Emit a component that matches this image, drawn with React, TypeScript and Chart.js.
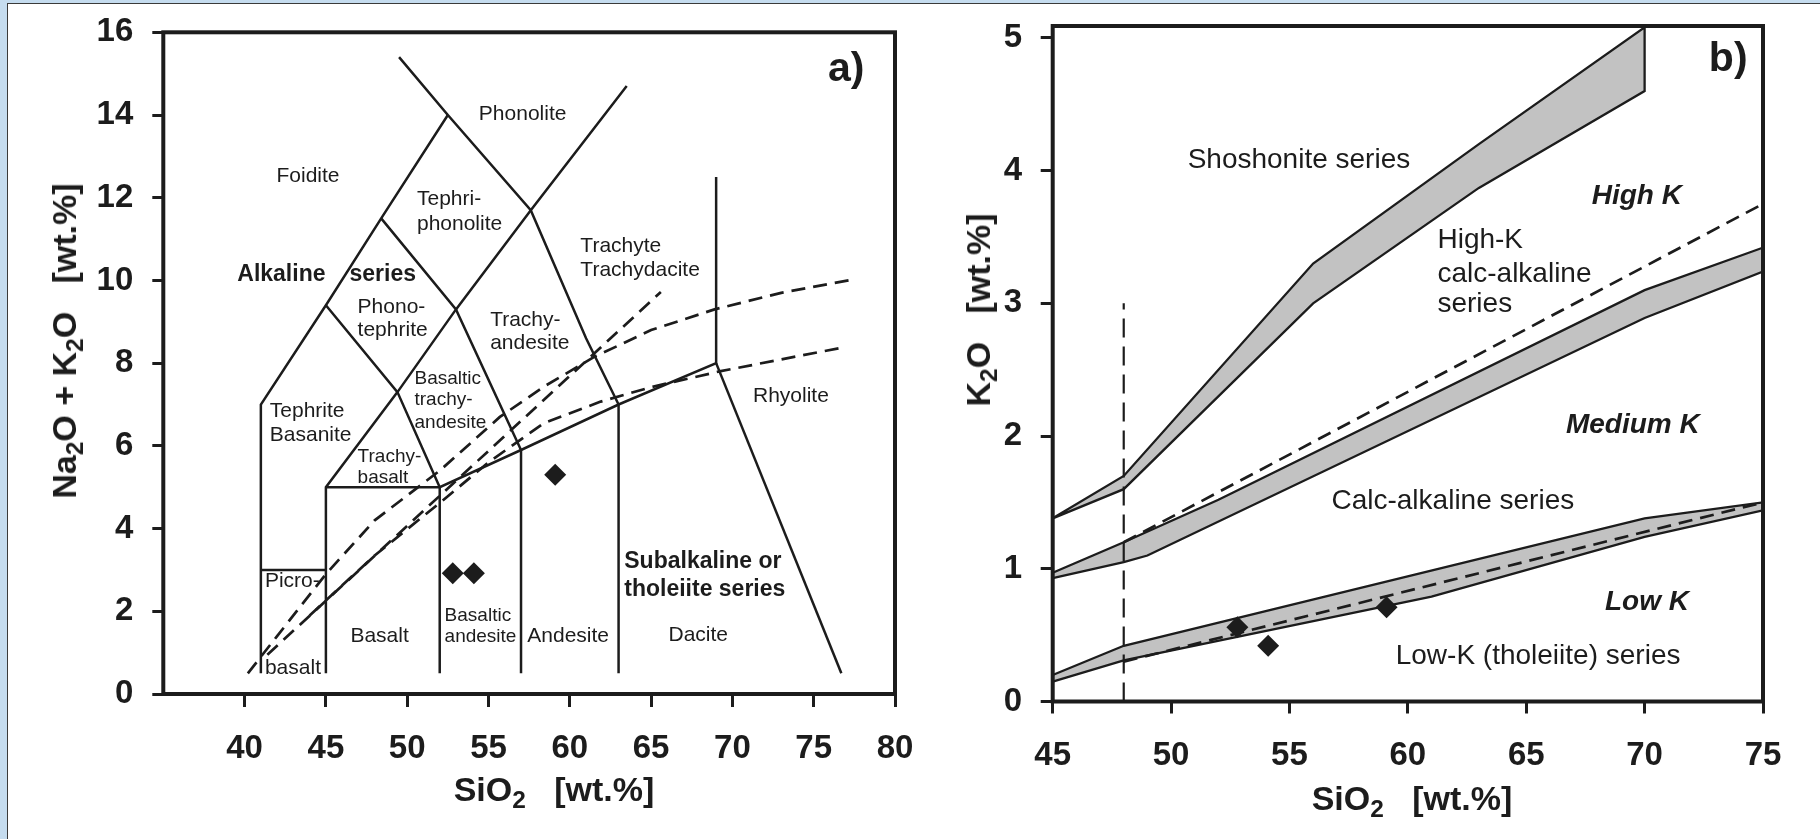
import React, { useEffect, useRef } from 'react';
import { Chart, registerables } from 'chart.js';

Chart.register(...registerables);

const FONT = '"Liberation Sans", Arial, Helvetica, sans-serif';
const INK = '#1c1c1c';
const BAND = '#c2c2c2';

// ---------- Panel a: TAS diagram ----------
const tasXTicks = [40, 45, 50, 55, 60, 65, 70, 75, 80];
const tasYTicks = [0, 2, 4, 6, 8, 10, 12, 14, 16];

const tasFoiditeBoundary = [[41, 0.5], [41, 7], [45, 9.4], [48.4, 11.5], [52.5, 14]];
const tasPhonoliteBoundary = [[49.5, 15.4], [52.5, 14], [57.6, 11.7], [61, 8.6], [63, 7], [63, 0.5]];
const tasTrachyteBoundary = [[45, 0.5], [45, 5], [49.4, 7.3], [53, 9.3], [57.6, 11.7], [63.5, 14.7]];
const tasPicroTop = [[41, 3], [45, 3]];
const tasTephriteBoundary = [[45, 9.4], [49.4, 7.3], [52, 5], [52, 0.5]];
const tasPhonotephriteBoundary = [[48.4, 11.5], [53, 9.3], [57, 5.9], [57, 0.5]];
const tasSubalkalineTop = [[45, 5], [52, 5], [57, 5.9], [63, 7], [69, 8], [69, 12.5]];
const tasRhyoliteBoundary = [[69, 8], [76.7, 0.5]];

const tasIrvineBaragar = [[40.2, 0.5], [42, 1.4], [45, 2.9], [48, 4.2], [52, 5.4], [55.7, 6.7], [58.4, 7.43], [61.5, 8.15], [65, 8.8], [68.9, 9.3], [73, 9.7], [77.4, 10.02]];
const tasMacdonald = [[41.4, 0.95], [65.6, 9.72]];
const tasLowerDivide = [[44, 1.9], [48, 3.35], [52, 4.62], [55, 5.6], [58.4, 6.55], [61.9, 7.07], [65, 7.42], [69.2, 7.8], [76.8, 8.38]];

const tasSamples = [[52.8, 2.92], [54.1, 2.92], [59.1, 5.3]];

const tasLabelsCentered = [
  ['Phonolite', 57.1, 14.03], ['Foidite', 43.9, 12.51], ['Rhyolite', 73.6, 7.19],
  ['Basalt', 48.3, 1.4], ['Andesite', 59.9, 1.4], ['Dacite', 67.9, 1.43],
];
const tasLabelsLeft = [
  ['Tephri-', 50.6, 11.97], ['phonolite', 50.6, 11.37], ['Trachyte', 60.65, 10.83], ['Trachydacite', 60.65, 10.25],
  ['Phono-', 46.95, 9.36], ['tephrite', 46.95, 8.8], ['Trachy-', 55.1, 9.04], ['andesite', 55.1, 8.48],
  ['Tephrite', 41.55, 6.83], ['Basanite', 41.55, 6.26], ['Picro-', 41.25, 2.72], ['basalt', 41.25, 0.62],
];
const tasSmallLabels = [
  ['Basaltic', 50.45, 7.63], ['trachy-', 50.45, 7.11], ['andesite', 50.45, 6.57],
  ['Trachy-', 46.95, 5.74], ['basalt', 46.95, 5.24], ['Basaltic', 52.3, 1.89], ['andesite', 52.3, 1.39],
];
const tasBoldLabels = [
  ['Alkaline', 39.55, 10.13], ['series', 46.45, 10.13], ['Subalkaline or', 63.35, 3.2], ['tholeiite series', 63.35, 2.53],
];
const tasPanelTag = [['a)', 77.0, 15.09]];

// ---------- Panel b: K2O vs SiO2 ----------
const kXTicks = [45, 50, 55, 60, 65, 70, 75];
const kYTicks = [0, 1, 2, 3, 4, 5];

const shoshoniteUpper = [[45, 1.38], [48, 1.7], [56, 3.3], [63, 4.2], [70, 5.08]];
const shoshoniteLower = [[45, 1.38], [48, 1.6], [56, 3.0], [63, 3.87], [70, 4.6]];
const highKUpper = [[45, 0.97], [48, 1.2], [52, 1.52], [70, 3.1], [75, 3.42]];
const highKLower = [[45, 0.93], [48, 1.05], [49, 1.1], [70, 2.89], [75, 3.24]];
const highKDashed = [[48, 1.2], [75, 3.75]];
const lowKUpper = [[45, 0.2], [48, 0.42], [70, 1.38], [75, 1.5]];
const lowKLower = [[45, 0.15], [48, 0.31], [61, 0.79], [70, 1.24], [75, 1.44]];
const lowKDashed = [[48, 0.3], [75, 1.5]];
const basaltLimit = [[48, 0], [48, 3]];

const kSamples = [[52.8, 0.56], [54.1, 0.42], [59.1, 0.71]];

const kLabelsCentered = [
  ['Shoshonite series', 55.4, 4.08], ['Calc-alkaline series', 61.9, 1.505], ['Low-K (tholeiite) series', 65.5, 0.337],
];
const kLabelsLeft = [['High-K', 61.25, 3.475], ['calc-alkaline', 61.25, 3.22], ['series', 61.25, 2.99]];
const kSeriesLabels = [['High K', 69.67, 3.81], ['Medium K', 69.5, 2.08], ['Low K', 70.1, 0.75]];
const kPanelTag = [['b)', 73.53, 4.833]];

// ---------- helpers ----------
type P = number[][];
const toPts = (arr: P) => arr.map(([x, y]) => ({ x, y }));
const bandPts = (upper: P, lower: P) => toPts([...upper, ...lower.slice().reverse()]);

const lineDs = (pts: P, dashed = false) => ({
  data: toPts(pts),
  showLine: true,
  borderColor: INK,
  borderWidth: dashed ? 2.7 : 2.5,
  borderDash: dashed ? [14, 8] : [],
  pointRadius: 0,
  fill: false,
  tension: 0,
  order: 2,
});
const bandDs = (upper: P, lower: P) => ({
  data: bandPts(upper, lower),
  showLine: true,
  borderColor: INK,
  borderWidth: 2.3,
  backgroundColor: BAND,
  pointRadius: 0,
  fill: 'shape',
  tension: 0,
  order: 3,
});
const pointDs = (pts: P) => ({
  data: toPts(pts),
  showLine: false,
  pointStyle: 'rectRot',
  pointRadius: 11,
  pointBackgroundColor: INK,
  pointBorderColor: INK,
  pointBorderWidth: 0,
  order: 0,
});

const framePlugin = {
  id: 'frame',
  afterDatasetsDraw(chart: any) {
    const { ctx, chartArea: a } = chart;
    ctx.save();
    ctx.strokeStyle = INK;
    ctx.lineWidth = 4;
    ctx.strokeRect(a.left, a.top, a.right - a.left, a.bottom - a.top);
    ctx.restore();
  },
};

type Group = { items: (string | number)[][]; font: string; align: CanvasTextAlign };
const labelPlugin = (id: string, groups: Group[]) => ({
  id,
  afterDatasetsDraw(chart: any) {
    const { ctx, scales } = chart;
    ctx.save();
    ctx.fillStyle = INK;
    ctx.textBaseline = 'middle';
    for (const g of groups) {
      ctx.font = g.font;
      ctx.textAlign = g.align;
      for (const [t, vx, vy] of g.items) {
        ctx.fillText(String(t), scales.x.getPixelForValue(vx as number), scales.y.getPixelForValue(vy as number));
      }
    }
    ctx.restore();
  },
});

const axis = (ticks: number[], min: number, max: number, kind: 'x' | 'y', size: number, tickLength: number, padding: number) => ({
  type: 'linear',
  min,
  max,
  afterBuildTicks: (s: any) => {
    s.ticks = ticks.map((v) => ({ value: v }));
  },
  afterFit: (s: any) => {
    if (kind === 'x') s.height = size;
    else s.width = size;
    s.paddingTop = 0;
    s.paddingBottom = 0;
    s.paddingLeft = 0;
    s.paddingRight = 0;
  },
  grid: { drawOnChartArea: false, drawTicks: true, tickLength, lineWidth: 3, color: INK },
  border: { display: false },
  ticks: {
    color: INK,
    font: { family: FONT, size: 33, weight: 'bold' },
    padding,
    autoSkip: false,
    maxRotation: 0,
    minRotation: 0,
  },
});

const baseOptions = (padding: any, x: any, y: any) => ({
  responsive: false,
  animation: false,
  devicePixelRatio: 1,
  events: [],
  layout: { padding },
  plugins: { legend: { display: false }, tooltip: { enabled: false }, title: { display: false } },
  scales: { x, y },
});

function TasChart() {
  const ref = useRef<HTMLCanvasElement>(null);
  useEffect(() => {
    const chart = new Chart(ref.current as HTMLCanvasElement, {
      type: 'scatter',
      data: {
        datasets: [
          pointDs(tasSamples),
          lineDs(tasFoiditeBoundary),
          lineDs(tasPhonoliteBoundary),
          lineDs(tasTrachyteBoundary),
          lineDs(tasPicroTop),
          lineDs(tasTephriteBoundary),
          lineDs(tasPhonotephriteBoundary),
          lineDs(tasSubalkalineTop),
          lineDs(tasRhyoliteBoundary),
          lineDs(tasIrvineBaragar, true),
          lineDs(tasMacdonald, true),
          lineDs(tasLowerDivide, true),
        ] as any,
      },
      options: baseOptions(
        { left: 0, top: 32.3, right: 35, bottom: 0 },
        axis(tasXTicks, 35, 80, 'x', 145, 13, 22),
        axis(tasYTicks, 0, 16, 'y', 163.3, 11, 19),
      ) as any,
      plugins: [
        framePlugin,
        labelPlugin('tasLabels', [
          { items: tasLabelsCentered, font: `21px ${FONT}`, align: 'center' },
          { items: tasLabelsLeft, font: `21px ${FONT}`, align: 'left' },
          { items: tasSmallLabels, font: `19px ${FONT}`, align: 'left' },
          { items: tasBoldLabels, font: `bold 23px ${FONT}`, align: 'left' },
          { items: tasPanelTag, font: `bold 41px ${FONT}`, align: 'center' },
        ]),
      ],
    });
    return () => chart.destroy();
  }, []);
  return <canvas ref={ref} width={930} height={839} style={{ position: 'absolute', left: 0, top: 0, width: 930, height: 839 }} />;
}

function KChart() {
  const ref = useRef<HTMLCanvasElement>(null);
  useEffect(() => {
    const chart = new Chart(ref.current as HTMLCanvasElement, {
      type: 'scatter',
      data: {
        datasets: [
          pointDs(kSamples),
          lineDs(highKDashed, true),
          lineDs(lowKDashed, true),
          { ...lineDs(basaltLimit, true), borderWidth: 2.2, borderDash: [19, 9] },
          bandDs(shoshoniteUpper, shoshoniteLower),
          bandDs(highKUpper, highKLower),
          bandDs(lowKUpper, lowKLower),
        ] as any,
      },
      options: baseOptions(
        { left: 0, top: 26, right: 57, bottom: 0 },
        axis(kXTicks, 45, 75, 'x', 137.5, 12, 23),
        axis(kYTicks, 0, 5.09, 'y', 122.7, 12, 18.7),
      ) as any,
      plugins: [
        framePlugin,
        labelPlugin('kLabels', [
          { items: kLabelsCentered, font: `28px ${FONT}`, align: 'center' },
          { items: kLabelsLeft, font: `28px ${FONT}`, align: 'left' },
          { items: kSeriesLabels, font: `italic bold 28px ${FONT}`, align: 'center' },
          { items: kPanelTag, font: `bold 41px ${FONT}`, align: 'center' },
        ]),
      ],
    });
    return () => chart.destroy();
  }, []);
  return <canvas ref={ref} width={890} height={839} style={{ position: 'absolute', left: 930, top: 0, width: 890, height: 839 }} />;
}

const titleStyle: React.CSSProperties = {
  position: 'absolute',
  fontFamily: FONT,
  fontWeight: 'bold',
  fontSize: 34,
  lineHeight: 1,
  color: INK,
  whiteSpace: 'pre',
  display: 'inline-block',
};
const Sub = ({ children }: { children: React.ReactNode }) => (
  <span style={{ fontSize: '0.72em', position: 'relative', top: '0.28em' }}>{children}</span>
);

export default function App() {
  return (
    <div style={{ position: 'fixed', left: 0, top: 0, width: 1820, height: 839, background: '#c5dcef', overflow: 'hidden' }}>
      <div
        style={{
          position: 'absolute',
          left: 7,
          top: 3,
          width: 1820 - 7,
          height: 839 - 3,
          background: '#ffffff',
          borderLeft: '1.5px solid #3a3a3a',
          borderTop: '1.5px solid #3a3a3a',
          boxSizing: 'border-box',
        }}
      />
      <TasChart />
      <KChart />
      <div style={{ ...titleStyle, left: 554, top: 789, transform: 'translate(-50%, -50%)' }}>
        SiO<Sub>2</Sub>{'   '}[wt.%]
      </div>
      <div style={{ ...titleStyle, left: 64, top: 341, transform: 'translate(-50%, -50%) rotate(-90deg)' }}>
        Na<Sub>2</Sub>O + K<Sub>2</Sub>O{'   '}[wt.%]
      </div>
      <div style={{ ...titleStyle, left: 1412, top: 798, transform: 'translate(-50%, -50%)' }}>
        SiO<Sub>2</Sub>{'   '}[wt.%]
      </div>
      <div style={{ ...titleStyle, left: 978, top: 310, transform: 'translate(-50%, -50%) rotate(-90deg)' }}>
        K<Sub>2</Sub>O{'   '}[wt.%]
      </div>
    </div>
  );
}
